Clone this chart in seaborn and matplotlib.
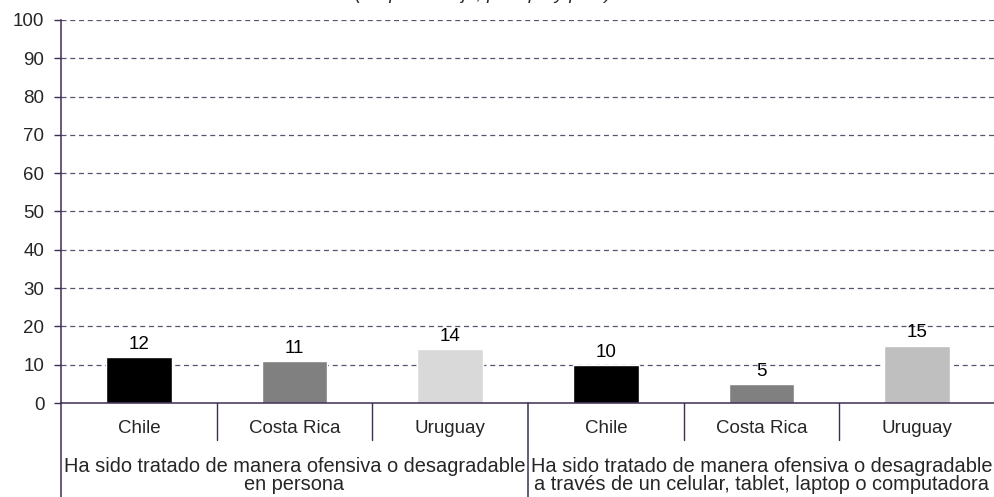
import matplotlib
matplotlib.use("Agg")
import matplotlib.pyplot as plt
import matplotlib.transforms as mtransforms
import seaborn as sns
import pandas as pd

# ---- data ----
groups = [
    "Ha sido tratado de manera ofensiva o desagradable\nen persona",
    "Ha sido tratado de manera ofensiva o desagradable\na través de un celular, tablet, laptop o computadora",
]
countries = ["Chile", "Costa Rica", "Uruguay"]
values_persona = [12, 11, 14]
values_digital = [10, 5, 15]
bar_colors = ["#000000", "#808080", "#d9d9d9", "#000000", "#808080", "#bfbfbf"]
title_text = "(En porcentaje, por tipo y país)"

rows = []
for g_i, vals in enumerate([values_persona, values_digital]):
    for c, v in zip(countries, vals):
        rows.append({"grupo": g_i, "pais": c, "clave": f"{g_i}-{c}", "valor": v})
df = pd.DataFrame(rows)

sns.set_style("white")
plt.rcParams["font.family"] = ["Liberation Sans", "DejaVu Sans"]

fig = plt.figure(figsize=(9.95, 4.97), dpi=100)
ax = fig.add_axes([61 / 995, 1 - 403 / 497, (995 - 61) / 995, 383 / 497])

order = list(df["clave"])
sns.barplot(data=df, x="clave", y="valor", hue="clave", order=order, hue_order=order,
            palette=bar_colors, width=0.42, legend=False, ax=ax, saturation=1,
            errorbar=None)

axis_col = "#3d2d52"
grid_col = "#5e5070"
ax.set_ylim(0, 100)
ax.set_xlim(-0.5, len(order) - 0.5)
ax.set_yticks(range(0, 101, 10))
for yv in range(10, 101, 10):
    ax.axhline(yv, color=grid_col, lw=0.9, ls=(0, (4, 3)), zorder=0)

for cont in ax.containers:
    ax.bar_label(cont, fmt="%d", padding=3, fontsize=13.5, color="#000000")

ax.set_xticks(range(len(order)))
ax.set_xticklabels(list(df["pais"]), fontsize=13.5)
ax.tick_params(axis="x", length=0, pad=12)
ax.tick_params(axis="y", direction="out", length=5, width=1, color=axis_col,
               labelsize=13.5, pad=7, left=True)
ax.set_xlabel("")
ax.set_ylabel("")

for s in ["top", "right"]:
    ax.spines[s].set_visible(False)
ax.spines["left"].set_color(axis_col)
ax.spines["bottom"].set_color(axis_col)
ax.spines["left"].set_linewidth(1.1)
ax.spines["bottom"].set_linewidth(1.1)

trans = mtransforms.blended_transform_factory(ax.transData, ax.transAxes)
short = (403 - 440) / 383
long_ = -94 / 383
for xs in [0.5, 1.5, 3.5, 4.5]:
    ax.plot([xs, xs], [0, short], transform=trans, color=axis_col, lw=1, clip_on=False)
for xs in [-0.5, 2.5]:
    ax.plot([xs, xs], [0, long_], transform=trans, color=axis_col, lw=1.1, clip_on=False)

for g_i, g in enumerate(groups):
    ax.text(1 + 3 * g_i, (403 - 475.5) / 383, g, transform=trans, ha="center",
            va="center", fontsize=14.4, linespacing=0.98)

fig.text(0.485, 1 + 1 / 497, title_text, ha="center", va="baseline",
         fontsize=13.5, style="italic")

fig.savefig("out.png", dpi=100)
